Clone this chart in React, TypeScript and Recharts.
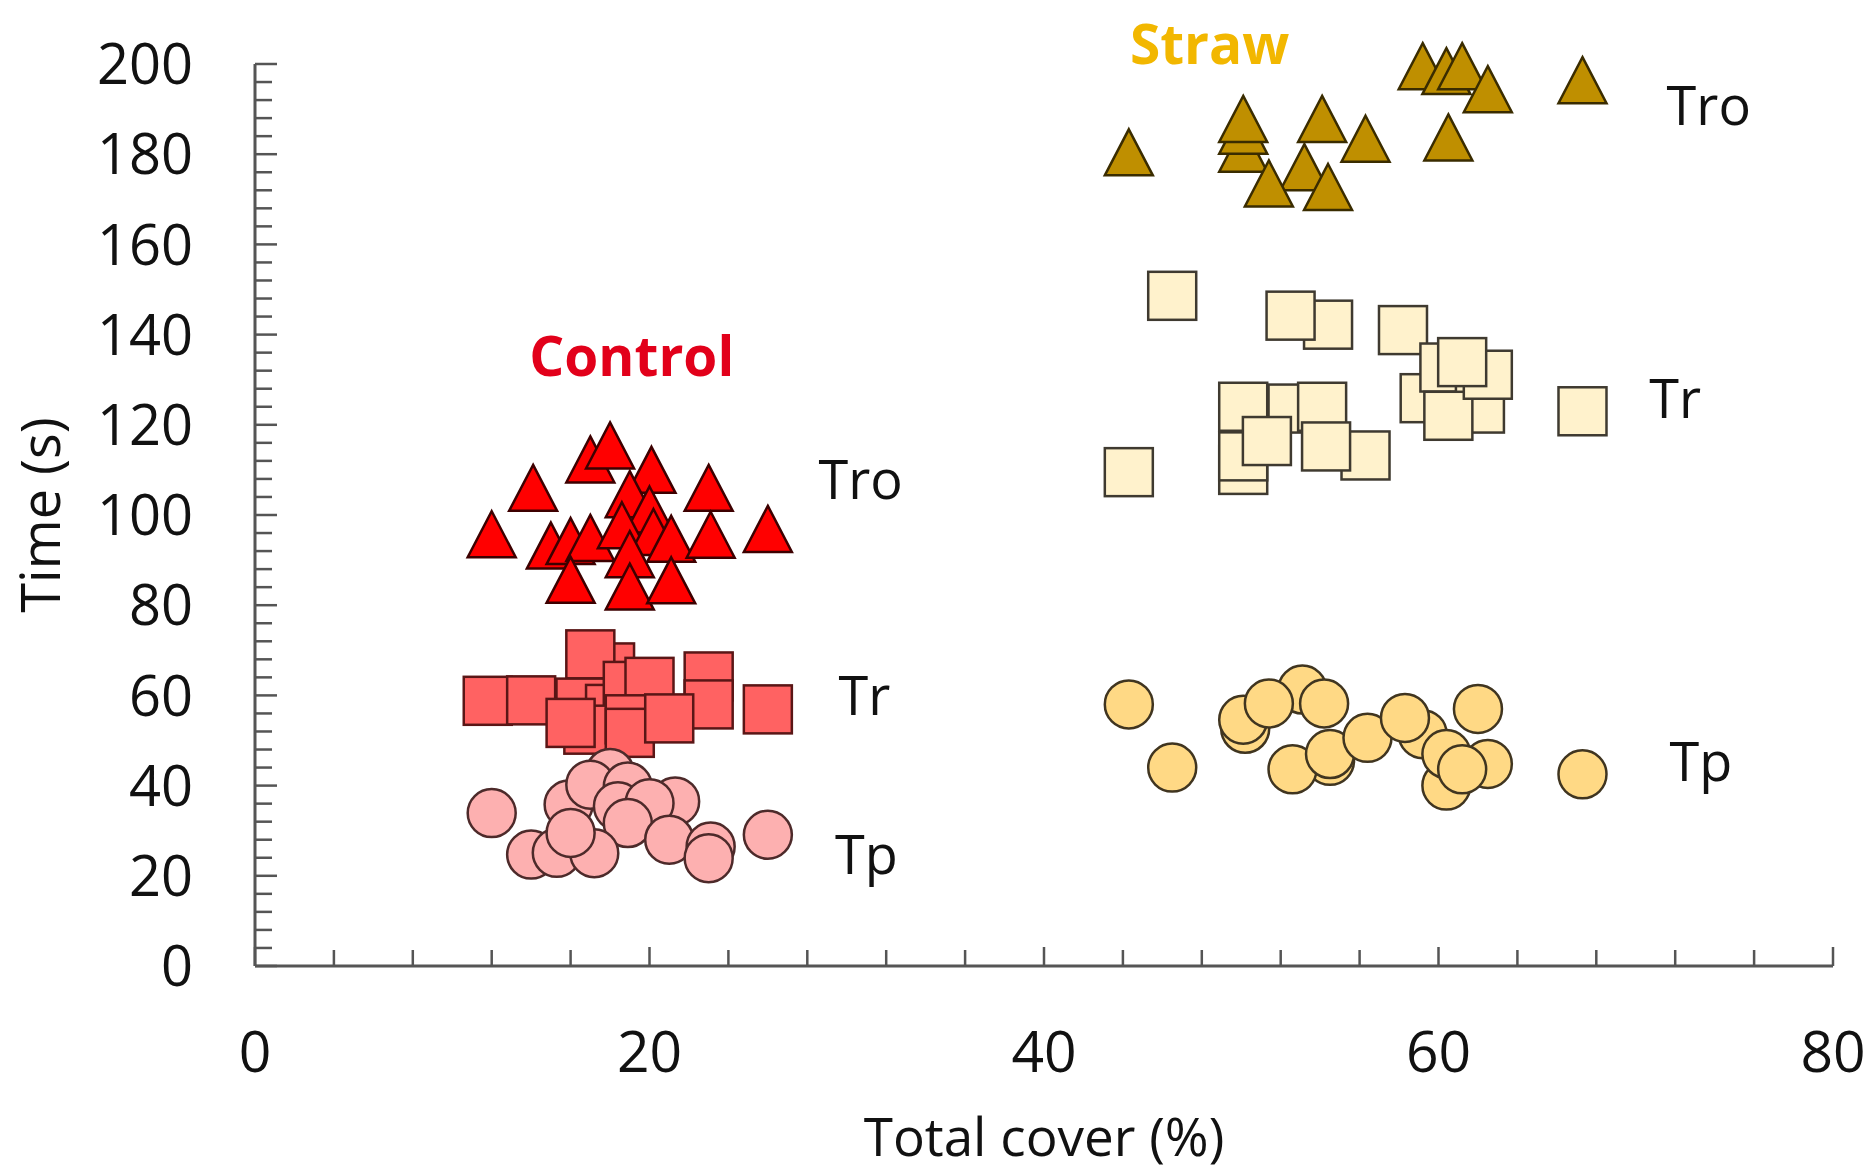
import React from 'react';
import {
  ScatterChart,
  Scatter,
  XAxis,
  YAxis,
  ReferenceDot,
  Label,
} from 'recharts';

// ---------- data ----------

type Pt = { x: number; y: number };

const controlTro: Pt[] = [
  { x: 12.0, y: 95.5 }, { x: 14.1, y: 105.8 }, { x: 17.0, y: 112.1 }, { x: 18.0, y: 115.2 },
  { x: 20.1, y: 109.8 }, { x: 23.0, y: 105.8 }, { x: 26.0, y: 96.7 }, { x: 15.0, y: 93.0 },
  { x: 16.0, y: 94.0 }, { x: 17.0, y: 94.7 }, { x: 19.0, y: 104.4 }, { x: 20.0, y: 101.0 },
  { x: 18.6, y: 97.5 }, { x: 20.2, y: 96.0 }, { x: 21.1, y: 94.5 }, { x: 23.1, y: 95.4 },
  { x: 19.0, y: 91.1 }, { x: 16.0, y: 85.4 }, { x: 19.0, y: 83.9 }, { x: 21.1, y: 85.3 },
];

const controlTr: Pt[] = [
  { x: 11.8, y: 58.8 }, { x: 14.0, y: 58.9 }, { x: 18.0, y: 66.2 }, { x: 17.0, y: 69.1 },
  { x: 16.5, y: 58.4 }, { x: 18.0, y: 57.0 }, { x: 18.9, y: 62.1 }, { x: 20.0, y: 63.0 },
  { x: 23.0, y: 64.2 }, { x: 23.0, y: 58.0 }, { x: 26.0, y: 56.9 }, { x: 16.9, y: 52.4 },
  { x: 16.0, y: 53.9 }, { x: 19.0, y: 54.7 }, { x: 19.0, y: 51.7 }, { x: 21.0, y: 54.9 },
];

const controlTp: Pt[] = [
  { x: 12.0, y: 33.9 }, { x: 18.0, y: 42.8 }, { x: 15.9, y: 35.8 }, { x: 17.0, y: 40.2 },
  { x: 18.9, y: 39.8 }, { x: 18.4, y: 35.4 }, { x: 21.3, y: 36.5 }, { x: 20.0, y: 36.1 },
  { x: 18.9, y: 31.7 }, { x: 14.0, y: 24.7 }, { x: 15.3, y: 25.1 }, { x: 17.2, y: 25.0 },
  { x: 16.0, y: 29.5 }, { x: 21.0, y: 28.0 }, { x: 23.1, y: 26.5 }, { x: 23.0, y: 23.9 },
  { x: 26.0, y: 29.1 },
];

const strawTro: Pt[] = [
  { x: 44.3, y: 180.2 }, { x: 50.1, y: 181.0 }, { x: 50.1, y: 185.0 }, { x: 50.1, y: 187.6 },
  { x: 53.2, y: 176.9 }, { x: 51.4, y: 173.3 }, { x: 54.1, y: 187.6 }, { x: 54.4, y: 172.5 },
  { x: 56.3, y: 183.2 }, { x: 59.2, y: 199.3 }, { x: 60.4, y: 198.2 }, { x: 61.2, y: 199.3 },
  { x: 62.5, y: 194.2 }, { x: 60.5, y: 183.5 }, { x: 67.3, y: 196.2 },
];

const strawTr: Pt[] = [
  { x: 46.5, y: 148.6 }, { x: 54.4, y: 142.2 }, { x: 52.5, y: 144.2 }, { x: 58.2, y: 141.0 },
  { x: 59.3, y: 125.9 }, { x: 60.3, y: 132.7 }, { x: 62.1, y: 123.6 }, { x: 60.5, y: 122.0 },
  { x: 62.5, y: 131.1 }, { x: 61.2, y: 133.9 }, { x: 67.3, y: 123.0 }, { x: 44.3, y: 109.5 },
  { x: 50.1, y: 110.0 }, { x: 50.1, y: 113.0 }, { x: 50.1, y: 124.0 }, { x: 52.6, y: 123.6 },
  { x: 54.1, y: 124.0 }, { x: 51.3, y: 116.4 }, { x: 56.3, y: 113.2 }, { x: 54.3, y: 115.2 },
];

const strawTp: Pt[] = [
  { x: 44.3, y: 58.0 }, { x: 46.5, y: 44.0 }, { x: 50.2, y: 52.6 }, { x: 50.1, y: 54.6 },
  { x: 53.1, y: 61.3 }, { x: 51.4, y: 58.2 }, { x: 54.2, y: 58.2 }, { x: 54.5, y: 45.5 },
  { x: 52.6, y: 43.6 }, { x: 54.5, y: 47.0 }, { x: 56.4, y: 50.6 }, { x: 59.2, y: 51.4 },
  { x: 58.3, y: 55.0 }, { x: 60.4, y: 40.0 }, { x: 60.4, y: 47.0 }, { x: 62.5, y: 44.8 },
  { x: 61.2, y: 43.6 }, { x: 62.0, y: 57.0 }, { x: 67.3, y: 42.5 },
];

// tick labels
const xMajorTicks = [0, 20, 40, 60, 80];
const yMajorTicks = [0, 20, 40, 60, 80, 100, 120, 140, 160, 180, 200];
const MINOR_STEP = 4;
const xTicks = Array.from({ length: 80 / MINOR_STEP + 1 }, (_, i) => i * MINOR_STEP);
const yTicks = Array.from({ length: 200 / MINOR_STEP + 1 }, (_, i) => i * MINOR_STEP);

// text annotations (data coordinates)
const annotations = [
  { x: 19.1, y: 135.3, text: 'Control', color: '#E2001A', bold: true },
  { x: 48.4, y: 204.3, text: 'Straw', color: '#F2B700', bold: true },
  { x: 30.7, y: 107.8, text: 'Tro', color: '#111111', bold: false },
  { x: 30.9, y: 60.0, text: 'Tr', color: '#111111', bold: false },
  { x: 31.0, y: 24.8, text: 'Tp', color: '#111111', bold: false },
  { x: 73.7, y: 190.7, text: 'Tro', color: '#111111', bold: false },
  { x: 72.0, y: 125.8, text: 'Tr', color: '#111111', bold: false },
  { x: 73.3, y: 45.3, text: 'Tp', color: '#111111', bold: false },
];

// ---------- styling ----------

const FONT = '"Open Sans", "Noto Sans", sans-serif';
const AXIS_COLOR = '#555555';
const HALF = 24;

const makeTriangle = (fill: string, stroke: string) => (p: any) => (
  <polygon
    points={`${p.cx},${p.cy - HALF} ${p.cx + HALF},${p.cy + HALF - 2} ${p.cx - HALF},${p.cy + HALF - 2}`}
    fill={fill}
    stroke={stroke}
    strokeWidth={2.5}
    strokeLinejoin="miter"
  />
);

const makeSquare = (fill: string, stroke: string) => (p: any) => (
  <rect
    x={p.cx - HALF}
    y={p.cy - HALF}
    width={HALF * 2}
    height={HALF * 2}
    fill={fill}
    stroke={stroke}
    strokeWidth={2.5}
  />
);

const makeCircle = (fill: string, stroke: string) => (p: any) => (
  <circle cx={p.cx} cy={p.cy} r={HALF} fill={fill} stroke={stroke} strokeWidth={2.5} />
);

// ---------- axis ticks ----------

const XTick = ({ x, y, payload }: any) => {
  const v = payload.value;
  const major = xMajorTicks.includes(v);
  return (
    <g>
      <line x1={x} x2={x} y1={y} y2={y - (major ? 19 : 16)} stroke={AXIS_COLOR} strokeWidth={2.5} />
      {major && (
        <text x={x} y={y + 106} textAnchor="middle" fontFamily={FONT} fontSize={57} fill="#111">
          {v}
        </text>
      )}
    </g>
  );
};

const YTick = ({ x, y, payload }: any) => {
  const v = payload.value;
  const major = yMajorTicks.includes(v);
  return (
    <g>
      <line x1={x} x2={x + (major ? 22 : 17)} y1={y} y2={y} stroke={AXIS_COLOR} strokeWidth={2.5} />
      {major && (
        <text x={x - 62} y={y} dy="0.36em" textAnchor="end" fontFamily={FONT} fontSize={56} fill="#111">
          {v}
        </text>
      )}
    </g>
  );
};

const XTitle = ({ viewBox }: any) => {
  const cx = viewBox.x + viewBox.width / 2;
  return (
    <text x={cx} y={viewBox.y + 190} textAnchor="middle" fontFamily={FONT} fontSize={53} fill="#111">
      Total cover (%)
    </text>
  );
};

const YTitle = ({ viewBox }: any) => {
  const cx = viewBox.x + 41;
  const cy = viewBox.y + viewBox.height / 2;
  return (
    <text
      x={cx}
      y={cy}
      dy="0.36em"
      transform={`rotate(-90 ${cx} ${cy})`}
      textAnchor="middle"
      fontFamily={FONT}
      fontSize={54}
      fill="#111"
    >
      Time (s)
    </text>
  );
};

const AnnoText = ({ viewBox, annoText, annoColor, annoBold }: any) => {
  const x = viewBox.x + viewBox.width / 2;
  const y = viewBox.y + viewBox.height / 2;
  return (
    <text
      x={x}
      y={y}
      dy="0.36em"
      textAnchor="middle"
      fontFamily={FONT}
      fontSize={annoBold ? 55 : 54}
      fontWeight={annoBold ? 700 : 400}
      fill={annoColor}
    >
      {annoText}
    </text>
  );
};

// ---------- chart ----------

export default function App() {
  return (
    <div style={{ position: 'absolute', left: 0, top: 0, width: 1871, height: 1175, background: '#fff' }}>
      <ScatterChart width={1871} height={1175} margin={{ top: 64, right: 38, bottom: 0, left: 0 }}>
        <XAxis
          type="number"
          dataKey="x"
          domain={[0, 80]}
          ticks={xTicks}
          interval={0}
          tickLine={false}
          tickSize={0}
          tickMargin={0}
          tick={<XTick />}
          axisLine={{ stroke: AXIS_COLOR, strokeWidth: 3 }}
          height={209}
        >
          <Label content={<XTitle />} />
        </XAxis>
        <YAxis
          type="number"
          dataKey="y"
          domain={[0, 200]}
          ticks={yTicks}
          interval={0}
          tickLine={false}
          tickSize={0}
          tickMargin={0}
          tick={<YTick />}
          axisLine={{ stroke: AXIS_COLOR, strokeWidth: 3 }}
          width={255}
        >
          <Label content={<YTitle />} />
        </YAxis>

        <Scatter data={controlTro} shape={makeTriangle('#FF0000', '#3d0000')} isAnimationActive={false} />
        <Scatter data={controlTr} shape={makeSquare('#FF6262', '#5a1616')} isAnimationActive={false} />
        <Scatter data={controlTp} shape={makeCircle('#FDB0B0', '#4d2a2a')} isAnimationActive={false} />
        <Scatter data={strawTro} shape={makeTriangle('#BF8F00', '#3a2c00')} isAnimationActive={false} />
        <Scatter data={strawTr} shape={makeSquare('#FFF2CC', '#3f3a30')} isAnimationActive={false} />
        <Scatter data={strawTp} shape={makeCircle('#FFD985', '#403520')} isAnimationActive={false} />

        {annotations.map((a, i) => (
          <ReferenceDot
            key={i}
            x={a.x}
            y={a.y}
            r={1}
            fill="none"
            stroke="none"
            ifOverflow="visible"
            label={<AnnoText annoText={a.text} annoColor={a.color} annoBold={a.bold} />}
          />
        ))}
      </ScatterChart>
    </div>
  );
}
